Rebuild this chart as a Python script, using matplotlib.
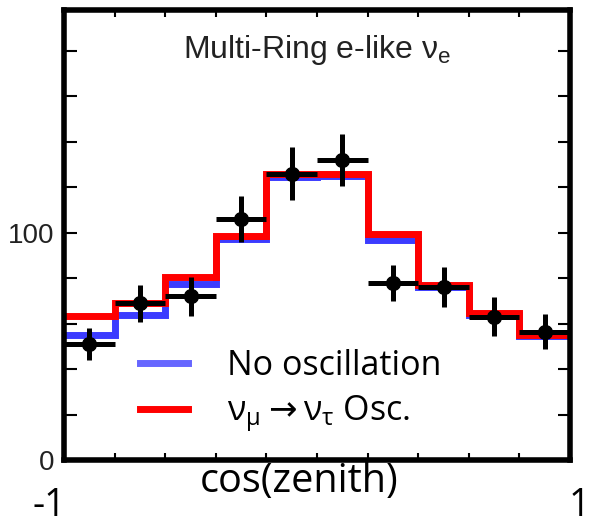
import numpy as np
import matplotlib
matplotlib.use('Agg')
import matplotlib.pyplot as plt
from matplotlib.lines import Line2D

plt.rcParams['font.family'] = ['Liberation Sans', 'DejaVu Sans']

# zenith angle bins
edges = [-1.0, -0.8, -0.6, -0.4, -0.2, 0.0, 0.2, 0.4, 0.6, 0.8, 1.0]
centers = [-0.9, -0.7, -0.5, -0.3, -0.1, 0.1, 0.3, 0.5, 0.7, 0.9]

# observed events
data = [51, 69, 72, 106, 126, 132, 78, 76, 63, 56.5]
data_err = [7.0, 8.2, 8.7, 10.3, 11.6, 11.5, 8.0, 8.8, 8.6, 7.7]

# MC expectations
no_osc = [55, 64, 77.5, 97.2, 124.5, 125, 97, 76.3, 64, 54.5]
numu_nutau = [63.5, 69, 80.5, 98.7, 126, 126, 99.5, 76.8, 64.5, 55]

xticks = [-0.8, -0.6, -0.4, -0.2, 0.0, 0.2, 0.4, 0.6, 0.8]
yticks = [0, 20, 40, 60, 80, 100, 120, 140, 160, 180]
ytick_labels = ['0', '', '', '', '', '100', '', '', '', '']

label_font = ['Open Sans', 'DejaVu Sans']

fig = plt.figure(figsize=(5.89, 5.25), dpi=100)
ax = fig.add_axes([64/589, 1 - 460/525, 506/589, 450/525])

ax.stairs(no_osc, edges, color='#3c3cff', lw=5, baseline=None)
ax.stairs(numu_nutau, edges, color='#ff0000', lw=5, baseline=None)
ax.errorbar(centers, data, xerr=0.1, yerr=data_err, fmt='o', color='k',
            ms=10, elinewidth=3.6, capsize=0)

ax.set_xlim(-1, 1)
ax.set_ylim(0, 198)
ax.set_xticks(xticks)
ax.set_xticklabels([])
ax.set_yticks(yticks)
ax.set_yticklabels(ytick_labels)
ax.tick_params(axis='y', direction='in', length=9, width=1.5, right=True,
               labelsize=20, labelcolor='#222222', pad=7)
ax.tick_params(axis='x', direction='in', length=5, width=1.5, top=True)
for s in ax.spines.values():
    s.set_linewidth(4)

ax.text(0.5, 0.893, 'Multi-Ring e-like ν$_\\mathregular{e}$', transform=ax.transAxes,
        ha='center', va='baseline', fontsize=23, color='#222222')

handles = [Line2D([], [], color='#6666ff', lw=5), Line2D([], [], color='#ff0000', lw=5)]
ax.legend(handles, ['No oscillation',
                    'ν$_\\mathregular{μ}\\rightarrow$ν$_\\mathregular{τ}$ Osc.'],
          loc='upper left', bbox_to_anchor=(0.15, 0.246), frameon=False,
          prop={'family': label_font, 'size': 24.5}, handlelength=1.4,
          handletextpad=1.15, labelspacing=0.3, borderpad=0, borderaxespad=0)

fig.text(299/589, 1 - 492/525, 'cos(zenith)', ha='center', va='baseline',
         fontsize=28.5, family=label_font)
fig.text(33/589, 0.0, '-1', ha='left', va='bottom', fontsize=27, family=label_font)
fig.text(569/589, 0.0, '1', ha='left', va='bottom', fontsize=27, family=label_font)

fig.savefig('out.png', dpi=100)
